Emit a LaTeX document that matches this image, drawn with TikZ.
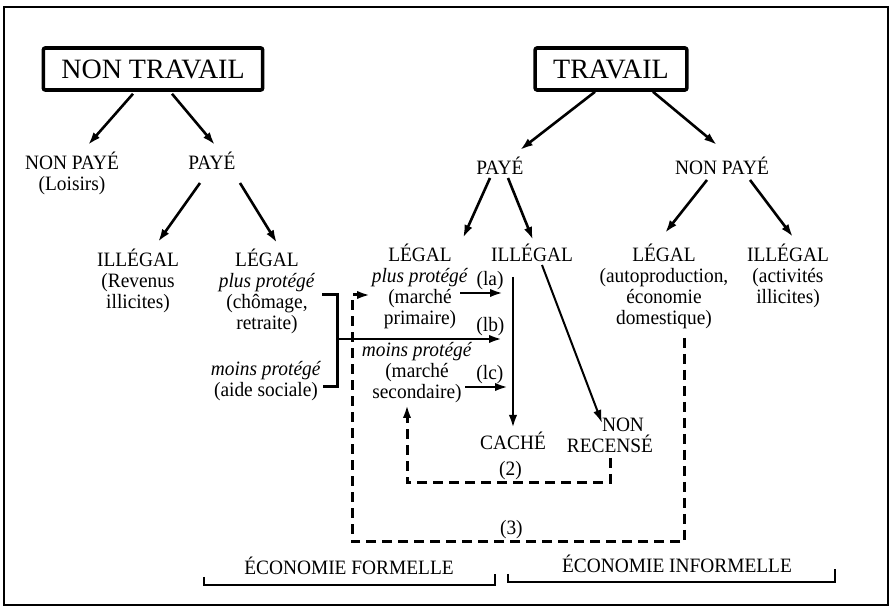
\documentclass[tikz,border=0pt]{standalone}
\usepackage{fontspec}
\setmainfont{Liberation Serif}[FakeStretch=0.95]
\newfontfamily\titlefont{Liberation Serif}
\usetikzlibrary{calc}
\usetikzlibrary{arrows.meta}

\begin{document}
\begin{tikzpicture}[x=0.5pt,y=-0.5pt]
    \tikzstyle{every node}=[font=\fontsize{10.2}{10.5}\selectfont,inner sep=1pt,align=center,anchor=base]
    \tikzstyle{every path}=[line width=1.3pt]
    \tikzstyle{titlebox}=[draw=black,line width=1.8pt,rounded corners=1pt,font=\titlefont\fontsize{14}{14}\selectfont,minimum height=21pt,inner xsep=9pt,anchor=center]
    \tikzstyle{arr}=[-{Latex[length=6.5pt,width=4.2pt]}]
    \tikzstyle{retour}=[dash pattern=on 5pt off 3pt,line width=1.5pt]
    \tikzstyle{tag}=[above]

    \useasboundingbox (0,0) rectangle (890,608);
    \draw[line width=1.1pt] (4,7) rectangle (888,605);

    \node[titlebox] (nt) at (153,69) {NON TRAVAIL};
    \node[titlebox] (tr) at (611,69) {TRAVAIL};

    \node (npL) at (72,191) {NON PAYÉ\\(Loisirs)};
    \node (pL) at (212,170) {PAYÉ};
    \node (ilL) at (138,309) {ILLÉGAL\\(Revenus\\illicites)};
    \node (lgL) at (267,330) {LÉGAL\\\textit{plus protégé}\\(chômage,\\retraite)};
    \node (mpL) at (266,397) {\textit{moins protégé}\\(aide sociale)};

    \node (pR) at (500,175) {PAYÉ};
    \node (npR) at (722,175) {NON PAYÉ};
    \node (lgR) at (420,325) {LÉGAL\\\textit{plus protégé}\\(marché\\primaire)};
    \node (ilM) at (532,262) {ILLÉGAL};
    \node (lgRR) at (664,325) {LÉGAL\\(autoproduction,\\économie\\domestique)};
    \node (ilRR) at (788,304) {ILLÉGAL\\(activités\\illicites)};
    \node (mpR) at (417,399) {\textit{moins protégé}\\(marché\\secondaire)};
    \node (cache) at (513,450) {CACHÉ};
    \node (nonrec) at (610,453) {\hspace*{13pt}NON\\RECENSÉ};

    \node (ef) at (349,575) {ÉCONOMIE FORMELLE};
    \node (ei) at (677,573) {ÉCONOMIE INFORMELLE};

    \draw[arr] ($(nt.south)+(-20,2)$) -- ($(npL.base)+(16,-46)$);
    \draw[arr] ($(nt.south)+(19,2)$) -- ($(pL.base)+(3,-25)$);
    \draw[arr] ($(pL.base)+(-12,13)$) -- ($(ilL.base)+(20,-67)$);
    \draw[arr] ($(pL.base)+(28,13)$) -- ($(lgL.base)+(10,-87)$);
    \draw[arr] ($(tr.south)+(-16,0)$) -- ($(pR.base)+(20,-25)$);
    \draw[arr] ($(tr.south)+(42,0)$) -- ($(npR.base)+(-5,-30)$);
    \draw[arr] ($(pR.base)+(-10,3)$) -- ($(lgR.base)+(43,-87)$);
    \draw[arr] ($(pR.base)+(8,3)$) -- ($(ilM.base)+(1,-22)$);
    \draw[arr] ($(npR.base)+(-15,5)$) -- ($(lgRR.base)+(1,-92)$);
    \draw[arr] ($(npR.base)+(28,5)$) -- ($(ilRR.base)+(5,-67)$);
    \draw[arr] ($(ilM.base)+(-19,15)$) -- ($(cache.base)+(0,-22)$);
    \draw[arr,line width=1pt] ($(ilM.base)+(10,3)$) -- ($(nonrec.base)+(-8,-30)$);

    \draw[line width=1.5pt] ($(mpL.base)+(56,-102)$) -- ($(mpL.base)+(71,-102)$) -- ($(mpL.base)+(71,-10)$) -- ($(mpL.base)+(57,-10)$);
    \coordinate (brk) at ($(mpL.base)+(71,-58)$);

    \draw[arr] ($(lgR.base)+(40,-32)$) -- ($(ilM.base)+(-29,31)$) node[tag,pos=0.7] {(la)};
    \draw[arr] (brk) -- ($(ilM.base)+(-30,77)$) node[tag,pos=0.93] {(lb)};
    \draw[arr] ($(mpR.base)+(48,-12)$) -- ($(ilM.base)+(-24,125)$) node[tag,pos=0.58] {(lc)};

    \draw[retour,arr] ($(nonrec.base)+(0,5)$) |- ($(mpR.base)+(-10,84)$) node[tag,pos=0.745] {(2)} -- ($(mpR.base)+(-10,6)$);
    \draw[retour,arr] ($(lgRR.base)+(20,13)$) |- ($(lgR.base)+(-68,217)$) node[tag,pos=0.76] {(3)} |- ($(lgR.base)+(-50,-30)$);

    \draw[line width=1.2pt] ($(ef.base)+(-145,2)$) -- ($(ef.base)+(-145,10)$) -- ($(ef.base)+(146,10)$) -- ($(ef.base)+(146,-1)$);
    \draw[line width=1.2pt] ($(ei.base)+(-169,1)$) -- ($(ei.base)+(-169,9)$) -- ($(ei.base)+(158,9)$) -- ($(ei.base)+(158,-4)$);
\end{tikzpicture}
\end{document}
